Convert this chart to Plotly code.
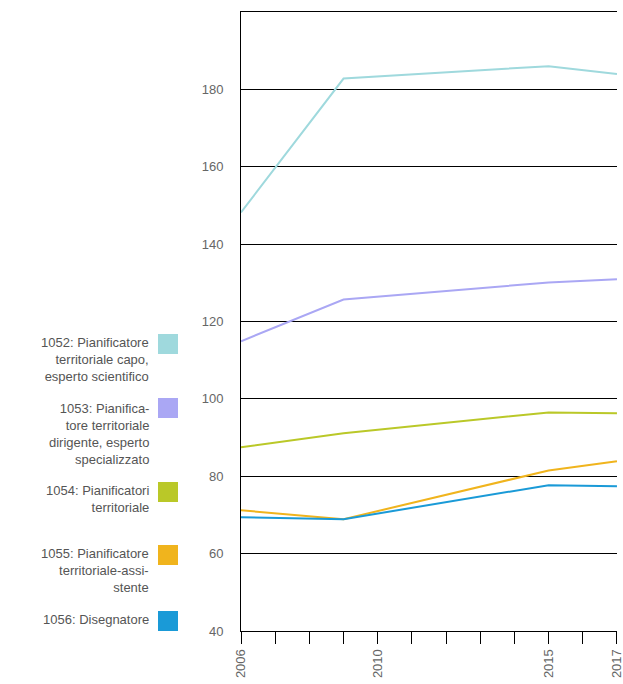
import plotly.graph_objects as go

years = [2006, 2009, 2015, 2017]
names = ["1052: Pianificatore<br>territoriale capo,<br>esperto scientifico",
         "1053: Pianifica-<br>tore territoriale<br>dirigente, esperto<br>specializzato",
         "1054: Pianificatori<br>territoriale",
         "1055: Pianificatore<br>territoriale-assi-<br>stente",
         "1056: Disegnatore"]
s1052 = [148.2, 182.8, 186.0, 184.0]
s1053 = [114.9, 125.7, 130.1, 130.9]
s1054 = [87.5, 91.1, 96.5, 96.3]
s1055 = [71.2, 68.9, 81.5, 83.9]
s1056 = [69.4, 68.9, 77.7, 77.4]
colors = ["#9fd9dd", "#aaa7f4", "#bac828", "#f0b41d", "#1a9ad7"]
tick_years = list(range(2006, 2018))
tick_text = [str(y) if y in (2006, 2010, 2015, 2017) else "" for y in tick_years]

fig = go.Figure()
for s, c in zip([s1052, s1053, s1054, s1055, s1056], colors):
    fig.add_trace(go.Scatter(x=years, y=s, mode="lines", line=dict(color=c, width=2), showlegend=False))

# hand-built legend: text right-aligned, square on the right
W, H, L, B = 376, 619, 241, 631
text_tops = [333, 399, 481, 544, 610]
sq_tops = [334, 398, 482, 545, 611]
for n, c, tt, st in zip(names, colors, text_tops, sq_tops):
    fig.add_annotation(text=n, xref="paper", yref="paper", x=(151 - L) / W, y=(B - tt) / H,
                       xanchor="right", yanchor="top", align="right", showarrow=False,
                       font=dict(size=13, color="#555555"))
    fig.add_shape(type="rect", xref="paper", yref="paper", x0=(158 - L) / W, x1=(178 - L) / W,
                  y0=(B - st - 20) / H, y1=(B - st) / H, fillcolor=c, line_width=0)

fig.update_layout(
    width=623, height=684, margin=dict(l=241, r=6, t=12, b=53),
    plot_bgcolor="white", paper_bgcolor="white",
    font=dict(family="Liberation Sans, Arial", size=13, color="#666666"),
    xaxis=dict(range=[2006, 2017.001], tickvals=tick_years, ticktext=tick_text, tickangle=-90,
               showgrid=False, ticks="outside", ticklen=12, tickcolor="black",
               showline=True, linecolor="black", mirror=True, zeroline=False, automargin=False,
               ticklabeloverflow="allow"),
    yaxis=dict(range=[40, 200], tickvals=[40, 60, 80, 100, 120, 140, 160, 180],
               showgrid=True, gridcolor="black", gridwidth=1, showline=True, linecolor="black",
               zeroline=False, ticks="", ticklabelstandoff=14, automargin=False),
)
fig.write_html("out.html", post_script="document.body.style.margin='0';",
               config={"displayModeBar": False})
